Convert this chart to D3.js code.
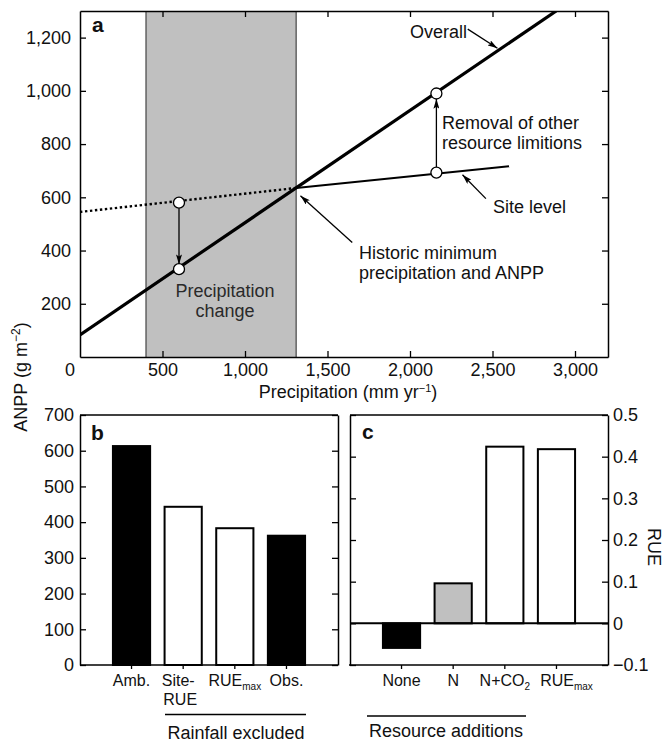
<!DOCTYPE html>
<html>
<head>
<meta charset="utf-8">
<script src="https://cdn.jsdelivr.net/npm/d3@7"></script>
<style>
  body { margin: 0; background: #fff; }
  text { font-family: "Liberation Sans", Arial, Helvetica, sans-serif; fill: #111; }
</style>
</head>
<body>
<div id="chart"></div>
<script>
// panel a: conceptual lines (precipitation mm/yr, ANPP g/m2)
const overallLine = [[0, 83], [2886, 1300]];
const siteDotted = [[0, 545], [1310, 635]];
const siteSolid = [[1310, 635], [2600, 717]];
const shadeRange = [400, 1310];
const points = [[600, 580], [600, 330], [2160, 990], [2160, 693]];
const aXTicks = [500, 1000, 1500, 2000, 2500, 3000];
const aYTicks = [200, 400, 600, 800, 1000, 1200];

// panel b: ANPP, rainfall excluded
const bCats = ["Amb.", "Site-RUE", "RUEmax", "Obs."];
const bValues = [613, 443, 383, 362];
const bFills = ["#000", "#fff", "#fff", "#000"];
const bYTicks = [0, 100, 200, 300, 400, 500, 600, 700];

// panel c: RUE, resource additions
const cCats = ["None", "N", "N+CO2", "RUEmax"];
const cValues = [-0.059, 0.096, 0.424, 0.418];
const cFills = ["#000", "#c0c0c0", "#fff", "#fff"];
const cYTicks = [-0.1, 0, 0.1, 0.2, 0.3, 0.4, 0.5];

const W = 665, H = 742;
const svg = d3.select("#chart").append("svg")
  .attr("width", W).attr("height", H);

const defs = svg.append("defs");
defs.append("marker")
  .attr("id", "arr")
  .attr("viewBox", "0 0 10 6")
  .attr("refX", 10).attr("refY", 3)
  .attr("markerWidth", 10).attr("markerHeight", 6)
  .attr("markerUnits", "userSpaceOnUse")
  .attr("orient", "auto")
  .append("path").attr("d", "M0,0 L10,3 L0,6 L2,3 Z").attr("fill", "#000");

// ---------- panel a ----------
const xA = d3.scaleLinear().domain([0, 3200]).range([80, 608]);
const yA = d3.scaleLinear().domain([0, 1300]).range([357, 11]);

defs.append("clipPath").attr("id", "clipA")
  .append("rect").attr("x", 80).attr("y", 11).attr("width", 528).attr("height", 346);

svg.append("rect")
  .attr("x", xA(shadeRange[0])).attr("y", yA(1300))
  .attr("width", xA(shadeRange[1]) - xA(shadeRange[0]))
  .attr("height", yA(0) - yA(1300))
  .attr("fill", "#c0c0c0");
shadeRange.forEach(v => {
  svg.append("line")
    .attr("x1", xA(v)).attr("x2", xA(v))
    .attr("y1", yA(0)).attr("y2", yA(1300))
    .attr("stroke", "#444").attr("stroke-width", 1.2);
});

const line = d3.line().x(d => xA(d[0])).y(d => yA(d[1]));
const gA = svg.append("g").attr("clip-path", "url(#clipA)");
gA.append("path").attr("d", line(siteDotted))
  .attr("fill", "none").attr("stroke", "#000").attr("stroke-width", 2.4)
  .attr("stroke-dasharray", "2.4,2.6");
gA.append("path").attr("d", line(siteSolid))
  .attr("fill", "none").attr("stroke", "#000").attr("stroke-width", 2);
gA.append("path").attr("d", line(overallLine))
  .attr("fill", "none").attr("stroke", "#000").attr("stroke-width", 3.2);

// arrows
function arrow(from, to) {
  svg.append("line")
    .attr("x1", xA(from[0])).attr("y1", yA(from[1]))
    .attr("x2", xA(to[0])).attr("y2", yA(to[1]))
    .attr("stroke", "#000").attr("stroke-width", 1.3)
    .attr("marker-end", "url(#arr)");
}
arrow([600, 563], [600, 348]);
arrow([2160, 712], [2160, 970]);
arrow([1650, 430], [1336, 606]);
arrow([2460, 595], [2318, 685]);
arrow([2350, 1232], [2530, 1160]);

svg.selectAll("circle.pt").data(points).enter().append("circle")
  .attr("class", "pt")
  .attr("cx", d => xA(d[0])).attr("cy", d => yA(d[1]))
  .attr("r", 5.5)
  .attr("fill", "#fff").attr("stroke", "#000").attr("stroke-width", 1.3);

// axes a
svg.append("g").attr("transform", `translate(0,${yA(0)})`)
  .call(d3.axisBottom(xA).tickValues(aXTicks).tickFormat(d3.format(","))
    .tickSizeInner(-6).tickSizeOuter(0).tickPadding(6));
svg.append("g").attr("transform", `translate(0,${yA(1300)})`)
  .call(d3.axisTop(xA).tickValues(aXTicks).tickFormat("")
    .tickSizeInner(-6).tickSizeOuter(0));
svg.append("g").attr("transform", `translate(${xA(0)},0)`)
  .call(d3.axisLeft(yA).tickValues(aYTicks).tickFormat(d3.format(","))
    .tickSizeInner(-6).tickSizeOuter(0).tickPadding(9));
svg.append("g").attr("transform", `translate(${xA(3200)},0)`)
  .call(d3.axisRight(yA).tickValues(aYTicks).tickFormat("")
    .tickSizeInner(-6).tickSizeOuter(0));

svg.append("text").attr("x", xA(0) - 5).attr("y", yA(0) + 19)
  .attr("text-anchor", "end").attr("font-size", 18).text("0");

svg.append("text").attr("x", 348).attr("y", 398)
  .attr("text-anchor", "middle").attr("font-size", 18)
  .html('Precipitation (mm yr<tspan dy="-6" font-size="11">−1</tspan><tspan dy="6">)</tspan>');

svg.append("text").attr("x", 92).attr("y", 32)
  .attr("font-size", 21).attr("font-weight", "bold").text("a");

function multi(x, y, lines, anchor, lh, fill) {
  const t = svg.append("text").attr("x", x).attr("y", y)
    .attr("text-anchor", anchor).attr("font-size", 18);
  if (fill) t.style("fill", fill);
  lines.forEach((s, i) => {
    t.append("tspan").attr("x", x).attr("dy", i === 0 ? 0 : lh).text(s);
  });
}
svg.append("text").attr("x", 410).attr("y", 38).attr("font-size", 18).text("Overall");
multi(442, 129, ["Removal of other", "resource limitions"], "start", 20);
svg.append("text").attr("x", 493).attr("y", 213).attr("font-size", 18).text("Site level");
multi(359, 259, ["Historic minimum", "precipitation and ANPP"], "start", 20);
multi(225, 297, ["Precipitation", "change"], "middle", 20, "#2a2a2a");

// y title shared
svg.append("text")
  .attr("transform", "translate(27,377) rotate(-90)")
  .attr("text-anchor", "middle").attr("font-size", 18)
  .html('ANPP (g m<tspan dy="-7" font-size="12">−2</tspan><tspan dy="7">)</tspan>');

// ---------- panel b ----------
const xB = d3.scaleBand().domain(bCats).range([105.7, 312.3]).paddingInner(0.28).paddingOuter(0.14);
const yB = d3.scaleLinear().domain([0, 700]).range([665, 415]);

svg.selectAll("rect.bb").data(bValues).enter().append("rect")
  .attr("class", "bb")
  .attr("x", (d, i) => xB(bCats[i]))
  .attr("y", d => yB(d))
  .attr("width", xB.bandwidth())
  .attr("height", d => yB(0) - yB(d))
  .attr("fill", (d, i) => bFills[i])
  .attr("stroke", "#000").attr("stroke-width", 2);

svg.append("g").attr("transform", `translate(80,0)`)
  .call(d3.axisLeft(yB).tickValues(bYTicks)
    .tickSizeInner(-6).tickSizeOuter(0).tickPadding(6));
svg.append("g").attr("transform", `translate(338,0)`)
  .call(d3.axisRight(yB).tickValues(bYTicks).tickFormat("")
    .tickSizeInner(-6).tickSizeOuter(0));
svg.append("line").attr("x1", 80).attr("x2", 338).attr("y1", 415).attr("y2", 415)
  .attr("stroke", "#000").attr("stroke-width", 1.5);
const bAx = svg.append("g").attr("transform", `translate(0,665)`)
  .call(d3.axisBottom(xB).tickFormat("").tickSizeInner(4).tickSizeOuter(0));
bAx.select(".domain").attr("d", "M80,0H338");

svg.append("text").attr("x", 91).attr("y", 440)
  .attr("font-size", 21).attr("font-weight", "bold").text("b");

function catLabel(xs, cat, y, shift) {
  const cx = xs(cat) + xs.bandwidth() / 2 + (shift || 0);
  const t = svg.append("text").attr("x", cx).attr("y", y)
    .attr("text-anchor", "middle").attr("font-size", 16);
  if (cat === "RUEmax") {
    t.append("tspan").text("RUE");
    t.append("tspan").attr("dy", 4).attr("font-size", 10).text("max");
  } else if (cat === "N+CO2") {
    t.append("tspan").text("N+CO");
    t.append("tspan").attr("dy", 4).attr("font-size", 10).text("2");
  } else if (cat === "Site-RUE") {
    t.append("tspan").attr("x", cx - 5).text("Site-");
    t.append("tspan").attr("x", cx - 3).attr("dy", 18.5).text("RUE");
  } else {
    t.text(cat);
  }
}
bCats.forEach(c => catLabel(xB, c, 686));

svg.append("line").attr("x1", 165).attr("x2", 306).attr("y1", 714.5).attr("y2", 714.5)
  .attr("stroke", "#000").attr("stroke-width", 1.3);
svg.append("text").attr("x", 236).attr("y", 739)
  .attr("text-anchor", "middle").attr("font-size", 18).text("Rainfall excluded");

// ---------- panel c ----------
const xC = d3.scaleBand().domain(cCats).range([375.7, 582.3]).paddingInner(0.28).paddingOuter(0.14);
const yC = d3.scaleLinear().domain([-0.1, 0.5]).range([665, 415]);

svg.selectAll("rect.cb").data(cValues).enter().append("rect")
  .attr("class", "cb")
  .attr("x", (d, i) => xC(cCats[i]))
  .attr("y", d => yC(Math.max(0, d)))
  .attr("width", xC.bandwidth())
  .attr("height", d => Math.abs(yC(d) - yC(0)))
  .attr("fill", (d, i) => cFills[i])
  .attr("stroke", "#000").attr("stroke-width", 2);

svg.append("line").attr("x1", 350).attr("x2", 608).attr("y1", yC(0)).attr("y2", yC(0))
  .attr("stroke", "#000").attr("stroke-width", 2);

svg.append("g").attr("transform", `translate(350,0)`)
  .call(d3.axisLeft(yC).tickValues(cYTicks).tickFormat("")
    .tickSizeInner(-6).tickSizeOuter(0));
svg.append("g").attr("transform", `translate(608,0)`)
  .call(d3.axisRight(yC).tickValues(cYTicks)
    .tickFormat(d => d === 0 ? "0" : d3.format(".1f")(d).replace("-", "−"))
    .tickSizeInner(-6).tickSizeOuter(0).tickPadding(5));
svg.append("line").attr("x1", 350).attr("x2", 608).attr("y1", 415).attr("y2", 415)
  .attr("stroke", "#000").attr("stroke-width", 1.5);
const cAx = svg.append("g").attr("transform", `translate(0,665)`)
  .call(d3.axisBottom(xC).tickFormat("").tickSizeInner(4).tickSizeOuter(0));
cAx.select(".domain").attr("d", "M349,0H608");

svg.append("text").attr("x", 362).attr("y", 439)
  .attr("font-size", 21).attr("font-weight", "bold").text("c");

cCats.forEach(c => catLabel(xC, c, 686, c === "RUEmax" ? 10 : 0));

svg.append("line").attr("x1", 367).attr("x2", 526).attr("y1", 716).attr("y2", 716)
  .attr("stroke", "#000").attr("stroke-width", 1.3);
svg.append("text").attr("x", 446).attr("y", 737)
  .attr("text-anchor", "middle").attr("font-size", 18).text("Resource additions");

svg.append("text")
  .attr("transform", "translate(648,547) rotate(90)")
  .attr("text-anchor", "middle").attr("font-size", 18).text("RUE");

// common axis styling
svg.selectAll(".domain").attr("stroke", "#000").attr("stroke-width", 1.5);
svg.selectAll(".tick line").attr("stroke", "#000").attr("stroke-width", 1.3);
svg.selectAll(".tick text").attr("font-size", 18).attr("fill", "#111")
  .attr("font-family", "'Liberation Sans', Arial, sans-serif");
</script>
</body>
</html>
